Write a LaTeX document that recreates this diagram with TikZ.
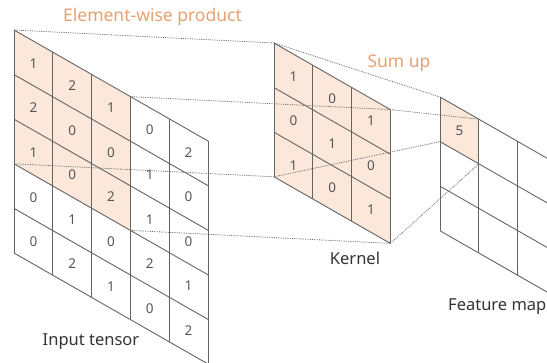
\documentclass[tikz,border=0pt]{standalone}
\usepackage{fontspec}
\setmainfont{Noto Sans}
\definecolor{peach}{RGB}{251,232,218}
\definecolor{orangetxt}{RGB}{232,160,112}
\definecolor{gridline}{RGB}{100,100,100}
\definecolor{dotline}{RGB}{105,105,105}
\definecolor{numtxt}{RGB}{85,85,85}
\begin{document}
\begin{tikzpicture}[x=1pt,y=-1pt,
  gridpen/.style={draw=gridline,line width=0.9pt},
  proj/.style={draw=dotline,densely dotted,line width=0.8pt},
  num/.style={font=\fontsize{13.5}{13.5}\selectfont,text=numtxt,inner sep=0pt},
  lbl/.style={font=\fontsize{16.5}{16.5}\selectfont,text=black!80,inner sep=0pt},
  olbl/.style={font=\fontsize{17.5}{17.5}\selectfont,text=orangetxt,inner sep=0pt},
  skew/.style={x={(38.8pt,-22.2pt)},y={(0pt,-44.6pt)}}
]
\clip (0,0) rectangle (547,363);

% ---------- Input tensor ----------
\begin{scope}[shift={(14,30)},skew]
  \fill[peach] (0,0) -- (3,0) -- (3,3) -- (0,3) -- cycle;
  \foreach \i in {0,...,5} \draw[gridpen] (\i,0) -- (\i,5);
  \foreach \j in {0,...,5} \draw[gridpen] (0,\j) -- (5,\j);
  \coordinate (inTL) at (0,0);
  \coordinate (inHTR) at (3,0);
  \coordinate (inHBL) at (0,3);
  \coordinate (inHBR) at (3,3);
  \foreach \row [count=\r from 0] in {{1,2,1,0,2},{2,0,0,1,0},{1,0,2,1,0},{0,1,0,2,1},{0,2,1,0,2}}{
    \foreach \v [count=\c from 0] in \row {
      \node[num] (in\r\c) at (\c+0.5,\r+0.5) {\v};
    }
  }
\end{scope}

% ---------- Kernel ----------
\begin{scope}[shift={(274,43)},skew]
  \fill[peach] (0,0) -- (3,0) -- (3,3) -- (0,3) -- cycle;
  \foreach \i in {0,...,3} \draw[gridpen] (\i,0) -- (\i,3);
  \foreach \j in {0,...,3} \draw[gridpen] (0,\j) -- (3,\j);
  \coordinate (kTL) at (0,0);
  \coordinate (kTR) at (3,0);
  \coordinate (kBL) at (0,3);
  \coordinate (kBR) at (3,3);
  \foreach \row [count=\r from 0] in {{1,0,1},{0,1,0},{1,0,1}}{
    \foreach \v [count=\c from 0] in \row {
      \node[num] (k\r\c) at (\c+0.5,\r+0.5) {\v};
    }
  }
\end{scope}

% ---------- Feature map ----------
\begin{scope}[shift={(440,97)},skew]
  \fill[peach] (0,0) -- (1,0) -- (1,1) -- (0,1) -- cycle;
  \foreach \i in {0,...,3} \draw[gridpen] (\i,0) -- (\i,3);
  \foreach \j in {0,...,3} \draw[gridpen] (0,\j) -- (3,\j);
  \coordinate (fTL) at (0,0);
  \coordinate (fTR) at (1,0);
  \coordinate (fBL) at (0,1);
  \coordinate (fBR) at (1,1);
  \node[num] (f00) at (0.5,0.5) {5};
\end{scope}

% ---------- Projection lines ----------
\draw[proj] (inTL) -- (kTL);
\draw[proj] (inHTR) -- (kTR);
\draw[proj] (inHBL) -- (kBL);
\draw[proj] (inHBR) -- (kBR);
\draw[proj] (kTL) -- (fTL);
\draw[proj] (kTR) -- (fTR);
\draw[proj] (kBL) -- (fBL);
\draw[proj] (kBR) -- (fBR);

% ---------- Labels ----------
\node[olbl] (ewp) at (152.5,17) {Element-wise product};
\node[olbl] (sum) at (399,63) {Sum up};
\node[lbl] (kl) at (355,258) {Kernel};
\node[lbl] (il) at (91,342) {Input tensor};
\node[lbl,anchor=west] (fl) at (448,307) {Feature map};
\end{tikzpicture}
\end{document}
